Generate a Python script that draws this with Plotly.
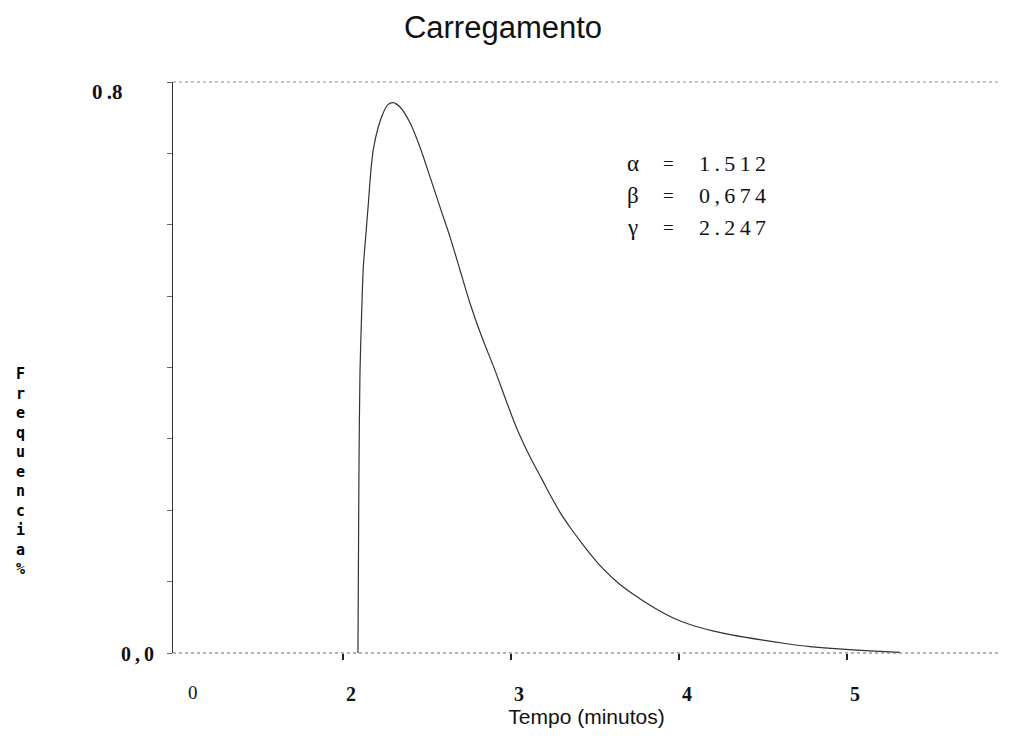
import plotly.graph_objects as go

# ---- data ----
tempo = [2.089, 2.092, 2.095, 2.101, 2.111, 2.121, 2.135, 2.151, 2.165, 2.180,
         2.210, 2.240, 2.266, 2.298, 2.339, 2.399, 2.458, 2.518, 2.577, 2.637,
         2.696, 2.756, 2.826, 2.905, 2.964, 3.034, 3.113, 3.183, 3.232, 3.292,
         3.361, 3.451, 3.540, 3.649, 3.748, 3.847, 3.966, 4.065, 4.202, 4.321,
         4.500, 4.643, 4.780, 4.929, 5.137, 5.315]
frequencia = [0.000, 0.130, 0.256, 0.392, 0.476, 0.541, 0.583, 0.630, 0.673, 0.705,
              0.737, 0.757, 0.768, 0.771, 0.765, 0.743, 0.709, 0.667, 0.625, 0.583,
              0.537, 0.490, 0.443, 0.396, 0.358, 0.315, 0.275, 0.244, 0.222, 0.197,
              0.173, 0.145, 0.120, 0.096, 0.079, 0.064, 0.049, 0.040, 0.031, 0.025,
              0.018, 0.013, 0.009, 0.006, 0.003, 0.001]

x_tick_values = [2, 3, 4, 5]
x_tick_labels = ["2", "3", "4", "5"]
y_tick_values = [0.0, 0.1, 0.2, 0.3, 0.4, 0.5, 0.6, 0.7, 0.8]
param_symbols = ["α", "β", "γ"]
param_values = ["1.512", "0,674", "2.247"]

title_text = "Carregamento"
x_title = "Tempo (minutos)"
y_title = "Frequencia%"

# ---- layout geometry (pixels) ----
W, H = 1009, 738
L, R, T, B = 173, 9, 82, 85
PW, PH = W - L - R, H - T - B


def px_x(px):
    return (px - L) / PW


def px_y(py):
    return (H - B - py) / PH


serif = "Liberation Serif"
sans = "Liberation Sans"

fig = go.Figure()
fig.add_trace(go.Scatter(
    x=tempo, y=frequencia, mode="lines",
    line=dict(color="#333333", width=1.2, shape="spline", smoothing=0.8),
    hoverinfo="skip", showlegend=False,
))

fig.update_layout(
    width=W, height=H, autosize=False,
    margin=dict(l=L, r=R, t=T, b=B, pad=0),
    paper_bgcolor="white", plot_bgcolor="white",
    showlegend=False,
    title=dict(text=title_text, x=503 / W, xanchor="center",
               y=1 - 27 / H, yanchor="middle", yref="container",
               font=dict(family=sans, size=31, color="#111")),
    xaxis=dict(
        range=[0.988, 5.911], showgrid=False, zeroline=False, showline=False,
        tickmode="array", tickvals=x_tick_values, ticktext=x_tick_labels,
        ticks="outside", ticklen=6, tickwidth=1.5, tickcolor="#222",
        tickfont=dict(family=serif, size=20, color="#111", weight="bold"),
        ticklabelshift=8, ticklabelstandoff=17,
        title=dict(text=x_title, font=dict(family=sans, size=21, color="#111"),
                   standoff=1),
    ),
    yaxis=dict(
        range=[0, 0.8], showgrid=False, zeroline=False,
        showline=True, linecolor="#333", linewidth=1.3,
        tickmode="array", tickvals=y_tick_values,
        ticks="outside", ticklen=5, tickwidth=1, tickcolor="#666",
        showticklabels=False,
    ),
)

# dotted top frame and bottom axis line
fig.add_shape(type="line", xref="paper", yref="paper", x0=0, x1=1, y0=1, y1=1,
              line=dict(color="#8a8a8a", width=1, dash="dot"))
fig.add_shape(type="line", xref="paper", yref="paper", x0=0, x1=1, y0=0, y1=0,
              line=dict(color="#666666", width=1.2, dash="dot"))

annotations = []
thin = "\u2009"
# y tick labels
annotations.append(dict(text="<b>0" + thin + ".8</b>", xref="paper", yref="y", x=px_x(124), y=0.8,
                        xanchor="right", yanchor="middle", yshift=-10, showarrow=False,
                        font=dict(family=serif, size=21, color="#111")))
annotations.append(dict(text="<b>0" + thin + "," + thin + "0</b>", xref="paper", yref="y",
                        x=px_x(156), y=0.0,
                        xanchor="right", yanchor="middle", yshift=-1, showarrow=False,
                        font=dict(family=serif, size=20, color="#111")))
# "0" label at broken left of x axis
annotations.append(dict(text="0", xref="x", yref="paper", x=1.107, y=px_y(692),
                        xanchor="center", yanchor="middle", showarrow=False,
                        font=dict(family=serif, size=19, color="#111")))
# y axis title, stacked letters
annotations.append(dict(text="<br>".join(list(y_title)), xref="paper", yref="paper",
                        x=px_x(20), y=px_y(471), xanchor="center", yanchor="middle",
                        showarrow=False, align="center",
                        font=dict(family="DejaVu Sans Mono", size=15, color="#000",
                                  weight="bold")))
# parameters
row_y = [163, 195, 227]
for sym, val, ry in zip(param_symbols, param_values, row_y):
    annotations.append(dict(text=sym, xref="paper", yref="paper", x=px_x(625), y=px_y(ry),
                            xanchor="left", yanchor="middle", showarrow=False,
                            font=dict(family=serif, size=23, color="#111")))
    annotations.append(dict(text="=", xref="paper", yref="paper", x=px_x(668), y=px_y(ry),
                            xanchor="center", yanchor="middle", showarrow=False,
                            font=dict(family=serif, size=19, color="#111")))
    annotations.append(dict(text=thin.join(list(val)), xref="paper", yref="paper",
                            x=px_x(697), y=px_y(ry), xanchor="left", yanchor="middle",
                            showarrow=False,
                            font=dict(family=serif, size=22, color="#111")))

fig.update_layout(annotations=annotations)

fig.write_html("out.html")
